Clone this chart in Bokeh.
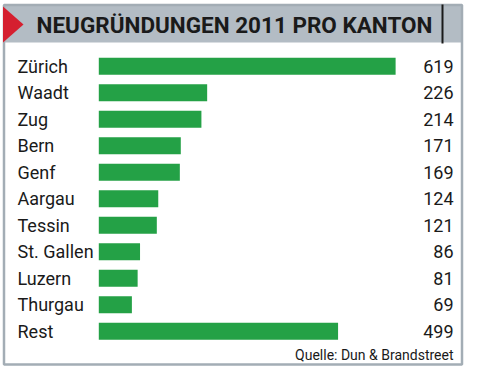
from bokeh.plotting import figure
from bokeh.models import Range1d, ColumnDataSource
from bokeh.core.properties import value
from bokeh.embed import file_html
from bokeh.resources import INLINE

# ---- data ----
kantone = ["Zürich", "Waadt", "Zug", "Bern", "Genf", "Aargau", "Tessin",
           "St. Gallen", "Luzern", "Thurgau", "Rest"]
neugruendungen = [619, 226, 214, 171, 169, 124, 121, 86, 81, 69, 499]
title_text = "NEUGRÜNDUNGEN 2011 PRO KANTON"
source_text = "Quelle: Dun & Brandstreet"

W, H = 464, 366
K = 0.4795          # px per unit
X0 = 98.3           # px position of value 0
ROW0, ROWH = 65.7, 26.5
def dx(px):
    return (px - X0) / K
def dy(py):
    return (py - ROW0) / ROWH

p = figure(width=W, height=H, output_backend="svg", toolbar_location=None,
           x_range=Range1d(dx(0), dx(W)), y_range=Range1d(dy(H), dy(0)),
           min_border=0, outline_line_color=None)
p.axis.visible = False
p.grid.visible = False
p.background_fill_color = "white"
p.border_fill_color = "white"

FONT = value("Roboto")

# frame and title band
p.quad(left=[dx(3)], right=[dx(462)], top=[dy(4)], bottom=[dy(42)],
       fill_color="#b3bcc4", line_color=None)
p.quad(left=[dx(3.5)], right=[dx(461.5)], top=[dy(4.5)], bottom=[dy(364)],
       fill_color=None, line_color="#a3adb5", line_width=2.5)
p.patch(x=[dx(2.5), dx(2.5), dx(23)], y=[dy(6), dy(42), dy(24)],
        fill_color="#d51f2f", line_color=None)
p.segment(x0=[dx(442)], x1=[dx(442)], y0=[dy(4)], y1=[dy(43)],
          line_color="#1a1a1a", line_width=2)
p.text(x=[dx(234)], y=[dy(24)], text=[title_text], text_font=FONT,
       text_font_style="bold", text_font_size="22.5px", text_color="#1a1a1a",
       text_align="center", text_baseline="middle")

idx = list(range(len(kantone)))
src = ColumnDataSource(dict(y=idx, v=neugruendungen, k=kantone,
                            vs=[str(v) for v in neugruendungen]))
p.hbar(y="y", left=0, right="v", height=0.64, source=src,
       fill_color="#24a146", line_color=None)
p.text(x=dx(17), y="y", text="k", source=src, text_font=FONT,
       text_font_size="18px", text_color="#1a1a1a",
       text_align="left", text_baseline="middle")
p.text(x=dx(453), y="y", text="vs", source=src, text_font=FONT,
       text_font_size="18px", text_color="#1a1a1a",
       text_align="right", text_baseline="middle")
p.text(x=[dx(453)], y=[dy(354)], text=[source_text], text_font=FONT,
       text_font_size="14px", text_color="#1a1a1a",
       text_align="right", text_baseline="middle")

open("out.html", "w").write(file_html(p, INLINE))
